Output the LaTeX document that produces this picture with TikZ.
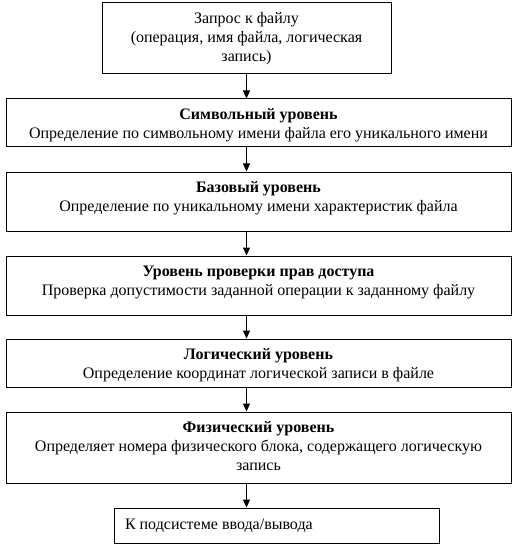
\documentclass[tikz,border=0pt]{standalone}
\usepackage{fontspec}
\setmainfont{Liberation Serif}
\usetikzlibrary{arrows.meta}
\newcommand\bxt[3]{\parbox[c][#2][t]{#1}{\centering\vspace*{7pt}\strut#3\par}}
\begin{document}
\begin{tikzpicture}[x=1pt,y=-1pt,
  box/.style={draw, line width=1pt, inner sep=0pt},
  arr/.style={line width=1pt, -{Triangle[width=7pt,length=8pt]}},
  every node/.style={font=\fontsize{16}{19}\selectfont}]
\useasboundingbox (0,0) rectangle (520,548);
\coordinate (ax) at (246.5,0);
\node[box] (n1) at (246.5,38.5) {\bxt{289pt}{71pt}{Запрос к файлу\\(операция, имя файла, логическая\\запись)}};
\node[box] (n2) at (258.5,123) {\bxt{505pt}{48pt}{\textbf{Символьный уровень}\\Определение по символьному имени файла его уникального имени}};
\node[box] (n3) at (258.5,201.5) {\bxt{505pt}{59pt}{\textbf{Базовый уровень}\\Определение по уникальному имени характеристик файла}};
\node[box] (n4) at (258.5,285.5) {\bxt{505pt}{59pt}{\textbf{Уровень проверки прав доступа}\\Проверка допустимости заданной операции к заданному файлу}};
\node[box] (n5) at (258.5,363) {\bxt{505pt}{48pt}{\textbf{Логический уровень}\\Определение координат логической записи в файле}};
\node[box] (n6) at (258.5,447.5) {\bxt{505pt}{71pt}{\textbf{Физический уровень}\\Определяет номера физического блока, содержащего логическую\\запись}};
\node[box] (n7) at (276.5,525.5) {\parbox[c][35pt][c]{325pt}{\hspace*{11pt}К подсистеме ввода/вывода}};
\draw[arr] (n1.south -| ax) -- (n2.north -| ax);
\draw[arr] (n2.south -| ax) -- (n3.north -| ax);
\draw[arr] (n3.south -| ax) -- (n4.north -| ax);
\draw[arr] (n4.south -| ax) -- (n5.north -| ax);
\draw[arr] (n5.south -| ax) -- (n6.north -| ax);
\draw[arr] (n6.south -| ax) -- (n7.north -| ax);
\end{tikzpicture}
\end{document}
